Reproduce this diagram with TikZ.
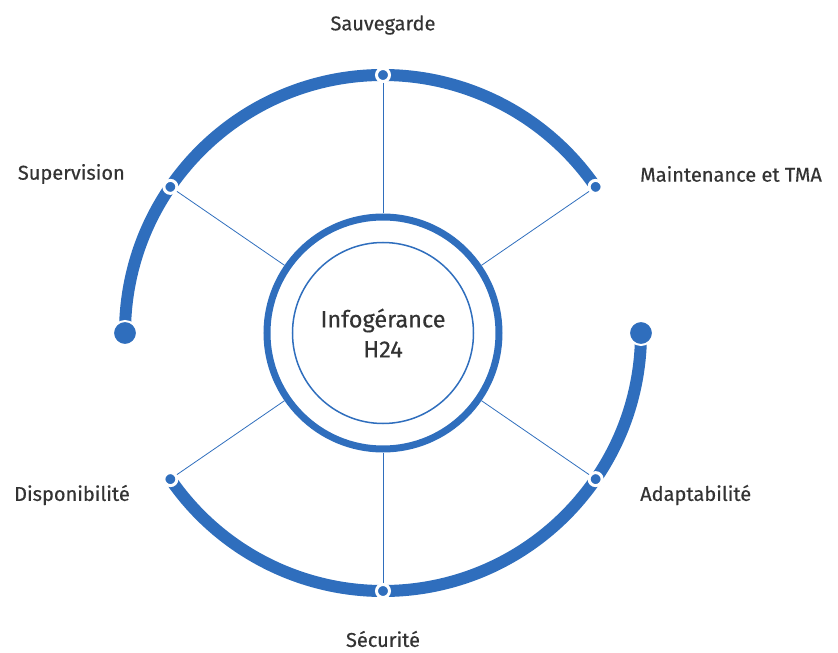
\documentclass[tikz,border=0pt]{standalone}
\usepackage{fontspec}
\setmainfont{Fira Sans}[FakeBold=0.4]
\usetikzlibrary{positioning}
\definecolor{azul}{RGB}{47,110,189}
\definecolor{texto}{RGB}{51,51,51}

\begin{document}
\begin{tikzpicture}[x=1pt,y=1pt,
  etiqueta/.style={text=texto,font=\fontsize{20}{23}\selectfont,inner sep=0pt},
  punto/.style={circle,fill=azul,draw=white,line width=3pt,minimum size=13pt,inner sep=0pt},
  extremo/.style={circle,fill=azul,draw=white,line width=2pt,minimum size=24pt,inner sep=0pt},
  radio/.style={azul,line width=0.8pt}]
  \useasboundingbox (-383,-320) rectangle (455,333);

  % Arcos exteriores
  \draw[azul,line width=12pt] (180:258) arc (180:34.5:258);
  \draw[azul,line width=12pt] (0:258) arc (0:-145.5:258);

  % Extremos de los arcos
  \node[extremo] (izq) at (180:258) {};
  \node[extremo] (der) at (0:258) {};

  % Anillo central
  \node[circle,draw=azul,line width=7pt,minimum size=232pt] (anillo) at (0,0) {};
  \node[circle,draw=azul,line width=1.5pt,minimum size=181pt,align=center,
        text=texto,font=\fontsize{23.5}{30}\selectfont] (centro) at (0,0) {Infogérance\\H24};

  % Puntos sobre los arcos
  \node[punto] (sup) at (145.5:258) {};
  \node[punto] (sauv) at (90:258) {};
  \node[punto] (maint) at (34.5:258) {};
  \node[punto] (adapt) at (-34.5:258) {};
  \node[punto] (secu) at (-90:258) {};
  \node[punto] (dispo) at (-145.5:258) {};

  % Radios hacia el anillo
  \foreach \p in {sup,sauv,maint,adapt,secu,dispo}
    \draw[radio] (\p) -- (anillo);

  % Etiquetas
  \node[etiqueta] (lsauv) at (0,308) {Sauvegarde};
  \node[etiqueta,anchor=east] (lsup) at (-258,159) {Supervision};
  \node[etiqueta,anchor=west] (lmaint) at (257,159) {Maintenance et TMA};
  \node[etiqueta,anchor=east] (ldispo) at (-253,-162) {Disponibilité};
  \node[etiqueta,anchor=west] (ladapt) at (257,-162) {Adaptabilité};
  \node[etiqueta] (lsecu) at (0,-306) {Sécurité};
\end{tikzpicture}
\end{document}
